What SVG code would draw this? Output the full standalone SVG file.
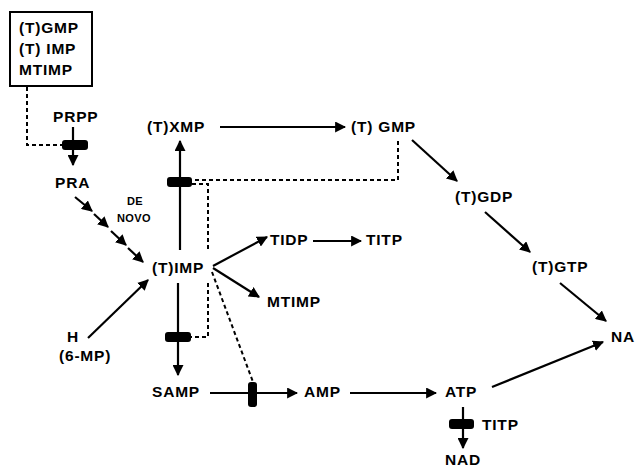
<svg xmlns="http://www.w3.org/2000/svg" width="636" height="469" viewBox="0 0 636 469">
<style>
text{font-family:"Liberation Sans",Arial,sans-serif;font-weight:bold;font-size:15.5px;fill:#000;letter-spacing:0.8px}
.sm{font-size:11px;letter-spacing:0.4px}
.ar{stroke:#000;stroke-width:2.2;fill:none;marker-end:url(#ah)}
.ds{stroke:#000;stroke-width:2;fill:none;stroke-dasharray:4 3}
.blk{fill:#000}
</style>
<defs>
<marker id="ah" viewBox="0 0 10 10" refX="9" refY="5" markerWidth="11" markerHeight="11" markerUnits="userSpaceOnUse" orient="auto"><path d="M0,0 L10,5 L0,10 z" fill="#000"/></marker>
</defs>
<rect width="636" height="469" fill="#fff"/>
<g id="connectors">
<line class="ar" x1="73" y1="127" x2="73" y2="165"/>
<path class="ds" d="M27,87 V145 H62"/>
<rect class="blk" x="62" y="140" width="26" height="10" rx="3"/>
<line class="ar" x1="75" y1="197" x2="92" y2="211"/>
<line class="ar" x1="94" y1="214" x2="108" y2="227"/>
<line class="ar" x1="111" y1="231" x2="126" y2="245"/>
<line class="ar" x1="128" y1="248" x2="143" y2="262"/>
<line class="ar" x1="88" y1="338" x2="148" y2="280"/>
<line class="ar" x1="180" y1="250" x2="180" y2="141"/>
<rect class="blk" x="167" y="177" width="25" height="10" rx="3"/>
<line class="ar" x1="220" y1="127" x2="345" y2="127"/>
<line class="ar" x1="412" y1="140" x2="457" y2="181"/>
<path class="ds" d="M398,141 V180 H192"/>
<path class="ds" d="M192,184 H208 V252"/>
<path class="ds" d="M208,283 V337 H191"/>
<rect class="blk" x="165" y="332" width="26" height="10" rx="3"/>
<line class="ar" x1="178" y1="283" x2="178" y2="375"/>
<line class="ar" x1="210" y1="393" x2="297" y2="393"/>
<line class="ds" x1="212" y1="272" x2="253" y2="382"/>
<rect class="blk" x="248" y="382" width="9" height="25" rx="3"/>
<line class="ar" x1="350" y1="393" x2="436" y2="393"/>
<line class="ar" x1="492" y1="387" x2="603" y2="342"/>
<line class="ar" x1="463" y1="407" x2="463" y2="448"/>
<rect class="blk" x="449" y="419" width="25" height="10" rx="3"/>
<line class="ar" x1="485" y1="212" x2="530" y2="252"/>
<line class="ar" x1="560" y1="283" x2="606" y2="321"/>
<line class="ar" x1="213" y1="266" x2="267" y2="237"/>
<line class="ar" x1="213" y1="268" x2="259" y2="297"/>
<line class="ar" x1="313" y1="241" x2="361" y2="241"/>
</g>
<g id="inhibitors">
<rect x="10" y="12" width="82" height="74" fill="none" stroke="#000" stroke-width="2"/>
<text x="19" y="33">(T)GMP</text>
<text x="19" y="54">(T) IMP</text>
<text x="19" y="75">MTIMP</text>
</g>
<g id="PRPP"><text x="53" y="122">PRPP</text></g>
<g id="PRA"><text x="55" y="188">PRA</text></g>
<g id="denovo"><text class="sm" x="127" y="205">DE</text><text class="sm" x="117" y="222">NOVO</text></g>
<g id="TIMP"><text x="152" y="273">(T)IMP</text></g>
<g id="H"><text x="67" y="342">H</text><text x="59" y="361">(6-MP)</text></g>
<g id="TXMP"><text x="147" y="132">(T)XMP</text></g>
<g id="TGMP"><text x="351" y="132">(T) GMP</text></g>
<g id="TGDP"><text x="455" y="202">(T)GDP</text></g>
<g id="TGTP"><text x="532" y="272">(T)GTP</text></g>
<g id="NA"><text x="611" y="342">NA</text></g>
<g id="TIDP"><text x="270" y="245">TIDP</text></g>
<g id="TITP1"><text x="366" y="245">TITP</text></g>
<g id="MTIMP"><text x="267" y="307">MTIMP</text></g>
<g id="SAMP"><text x="152" y="397">SAMP</text></g>
<g id="AMP"><text x="304" y="397">AMP</text></g>
<g id="ATP"><text x="445" y="397">ATP</text></g>
<g id="TITP2"><text x="482" y="430">TITP</text></g>
<g id="NAD"><text x="445" y="465">NAD</text></g>
</svg>
